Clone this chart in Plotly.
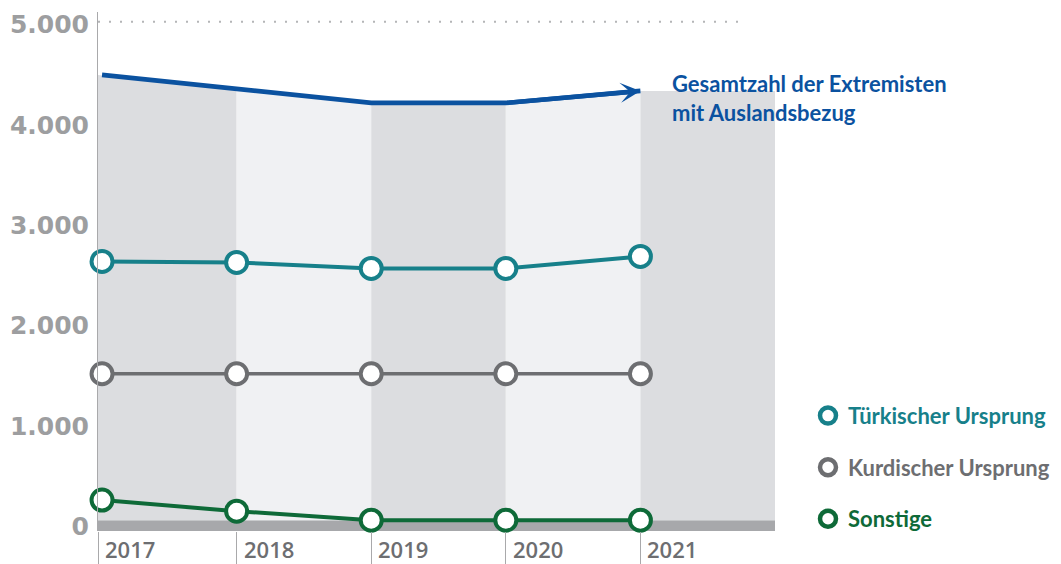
import plotly.graph_objects as go

# ---- data ----
years = [2017, 2018, 2019, 2020, 2021]
year_labels = ["2017", "2018", "2019", "2020", "2021"]
total = [4470, 4330, 4190, 4190, 4310]       # Gesamtzahl der Extremisten mit Auslandsbezug
tuerk = [2610, 2600, 2540, 2540, 2660]       # Türkischer Ursprung
kurd = [1490, 1490, 1490, 1490, 1490]        # Kurdischer Ursprung
sonst = [230, 120, 30, 30, 30]               # Sonstige
y_ticks = [0, 1000, 2000, 3000, 4000, 5000]

# ---- styling constants ----
X_START, X_END = 2016.97, 2022
Y_MIN, Y_MAX = -78, 5097
BASE_TOP = 30
DOT_END = 2021.78

BLUE = "#0b52a0"
TEAL = "#17808a"
GREY = "#6d6e71"
GREEN = "#0e6a38"
AXIS = "#a9a9ab"
BAND_COLORS = ["#dcdde0", "#f0f1f3"]

fig = go.Figure()

# alternating shaded columns under the total line
n = len(years)
for i in range(n):
    x0 = X_START if i == 0 else years[i]
    x1 = years[i + 1] if i + 1 < n else X_END
    v0 = total[i]
    v1 = total[i + 1] if i + 1 < n else total[i]
    fig.add_trace(go.Scatter(
        x=[x0, x1, x1, x0, x0], y=[v0, v1, BASE_TOP, BASE_TOP, v0],
        mode="lines", fill="toself", fillcolor=BAND_COLORS[i % 2],
        line=dict(width=0, color=BAND_COLORS[i % 2]),
        hoverinfo="skip", showlegend=False))

# total line
fig.add_trace(go.Scatter(x=years, y=total, mode="lines",
                         line=dict(color=BLUE, width=4.7),
                         showlegend=False, name="Gesamtzahl"))

series = [("Türkischer Ursprung", tuerk, TEAL, 4),
          ("Kurdischer Ursprung", kurd, GREY, 3.6),
          ("Sonstige", sonst, GREEN, 4)]
for name, vals, col, lw in series:
    fig.add_trace(go.Scatter(
        x=years, y=vals, mode="lines+markers", cliponaxis=False,
        line=dict(color=col, width=lw),
        marker=dict(size=21, color="white", line=dict(color=col, width=4)),
        showlegend=False, name=name))

# legend-only entries (circle markers)
for k, (name, vals, col, lw) in enumerate(series):
    fig.add_trace(go.Scatter(
        x=[None], y=[None], mode="markers",
        marker=dict(size=16, color="white", line=dict(color=col, width=4.5)),
        name=f'<span style="color:{col}">{name}</span>',
        legendgroup=f"g{k}", showlegend=True))

# base band at zero
fig.add_shape(type="rect", xref="x", yref="y", x0=X_START, x1=X_END,
              y0=Y_MIN, y1=BASE_TOP, fillcolor="#a7a8ab", line=dict(width=0),
              layer="between")

# dotted top line at 5.000
fig.add_shape(type="line", xref="x", yref="y", x0=X_START, x1=DOT_END,
              y0=y_ticks[-1], y1=y_ticks[-1],
              line=dict(color="#b4b5b7", width=2, dash="2px,9px"))

# arrow head at the end of the total line
fig.add_annotation(x=years[-1], y=total[-1], ax=years[-2], ay=total[-2],
                   xref="x", yref="y", axref="x", ayref="y", text="",
                   showarrow=True, arrowhead=3, arrowwidth=4.5, arrowsize=0.75,
                   arrowcolor=BLUE)

# label for total line
fig.add_annotation(x=years[-1], y=total[-1], xref="x", yref="y",
                   text="Gesamtzahl der Extremisten<br>mit Auslandsbezug",
                   showarrow=False, xanchor="left", yanchor="middle", align="left",
                   xshift=30, yshift=-7,
                   font=dict(family="Lato", size=22, color=BLUE, weight=700))

# year labels
tick_positions = [X_START] + years[1:]
for pos, lab in zip(tick_positions, year_labels):
    fig.add_annotation(x=pos, y=0, xref="x", yref="paper", text=lab,
                       showarrow=False, xanchor="left", yanchor="middle",
                       xshift=6, yshift=-18, borderpad=0,
                       font=dict(family="Open Sans", size=22, color=GREY, weight=600))

fig.update_layout(
    width=1061, height=564,
    margin=dict(l=98, r=286, t=12, b=33, autoexpand=False),
    paper_bgcolor="white", plot_bgcolor="white",
    separators=",.",
    showlegend=True,
    legend=dict(xref="container", yref="container",
                x=808 / 1061, xanchor="left", y=0.30, yanchor="top",
                font=dict(family="Lato", size=22, weight=700),
                tracegroupgap=20, itemsizing="trace",
                bgcolor="rgba(0,0,0,0)"),
    xaxis=dict(range=[X_START, X_END], tickvals=tick_positions, automargin=False,
               ticks="outside", ticklen=33, tickcolor=AXIS, tickwidth=1,
               showticklabels=False, showgrid=False, zeroline=False, showline=False),
    yaxis=dict(range=[Y_MIN, Y_MAX], tickvals=y_ticks, tickformat=",", automargin=False,
               showgrid=False, zeroline=False, showline=True, linecolor=AXIS,
               linewidth=1, ticks="", ticklabelstandoff=3, ticklabelshift=3,
               tickfont=dict(family="DejaVu Sans", size=25, color="#9d9ea0", weight=700)),
)

fig.write_html("out.html", post_script="document.body.style.margin='0px';",
               config={"displayModeBar": False})
